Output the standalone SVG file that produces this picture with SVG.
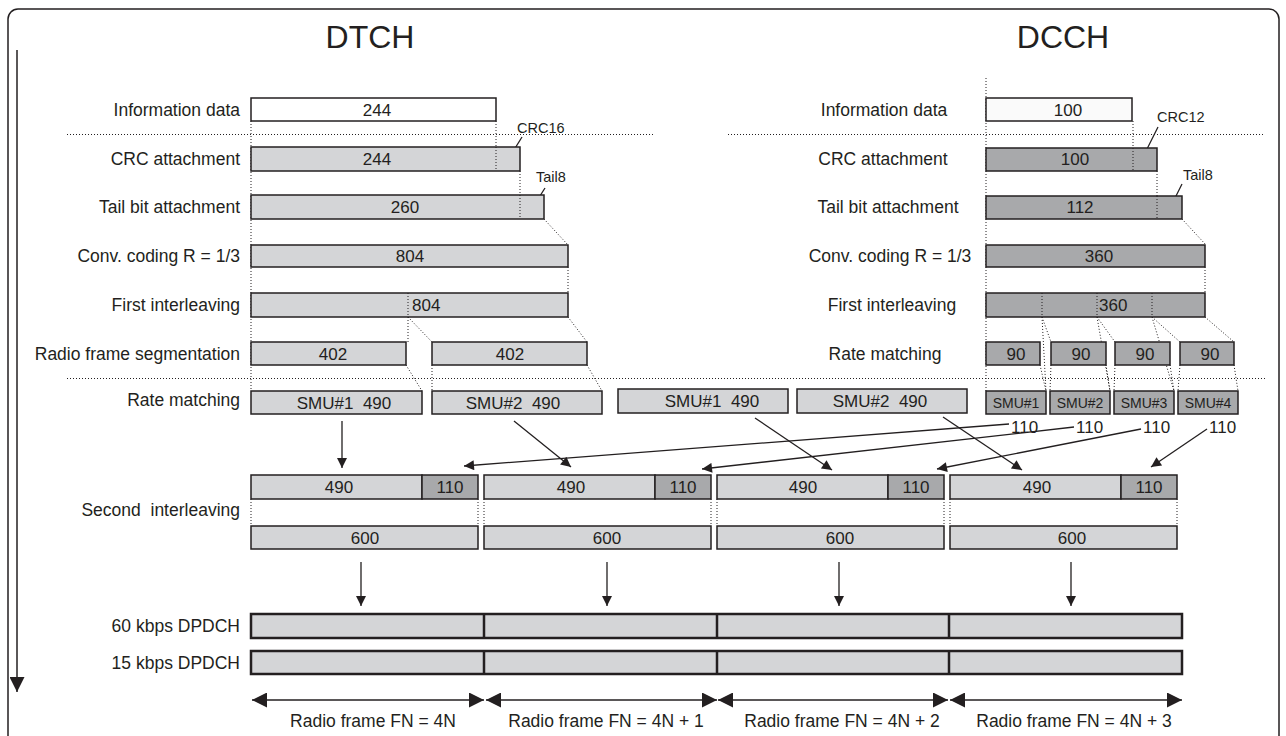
<svg xmlns="http://www.w3.org/2000/svg" width="1286" height="736" viewBox="0 0 1286 736">
<style>
.box{stroke:#231f20;stroke-width:1.5}
.lt{fill:#d4d5d7}.dk{fill:#a8a9ab}.wh{fill:#ffffff}.vw{fill:#fafafa}
.dot{stroke:#231f20;stroke-width:1;stroke-dasharray:1 2;fill:none}
.ln{stroke:#231f20;stroke-width:1.3;fill:none}
.t{font-family:'Liberation Sans',Arial,sans-serif;font-size:17.5px;fill:#231f20}
.lbl{text-anchor:end}
.mid{text-anchor:middle}
.num{font-size:17px;text-anchor:middle}
.n17{font-size:17px}
.sm{font-size:14.5px}
.smu{font-size:14px;text-anchor:middle}
.title{font-size:32px;text-anchor:middle}
.thick{stroke:#231f20;stroke-width:2.5}
</style>
<defs>
<marker id="ah" viewBox="0 0 10 10" refX="10" refY="5" markerWidth="12" markerHeight="10" markerUnits="userSpaceOnUse" orient="auto"><path d="M0,0 L10,5 L0,10 z" fill="#231f20"/></marker>
<marker id="ahb" viewBox="0 0 10 10" refX="10" refY="5" markerWidth="15" markerHeight="15" markerUnits="userSpaceOnUse" orient="auto-start-reverse"><path d="M0,0 L10,5 L0,10 z" fill="#231f20"/></marker>
</defs>
<rect x="8" y="9" width="1271" height="760" rx="10" fill="none" stroke="#231f20" stroke-width="1.5"/>

<g id="connectors">
<line class="dot" x1="67" y1="134.5" x2="655" y2="134.5"/>
<line class="dot" x1="728" y1="134.5" x2="1265" y2="134.5"/>
<line class="dot" x1="67" y1="378.5" x2="1265" y2="378.5"/>
<line class="dot" x1="251" y1="121" x2="251" y2="391"/>
<line class="dot" x1="496" y1="121" x2="496" y2="171"/>
<line class="dot" x1="520" y1="171" x2="520" y2="219"/>
<line class="dot" x1="544" y1="219" x2="568" y2="245"/>
<line class="dot" x1="568" y1="267" x2="568" y2="293"/>
<line class="dot" x1="408" y1="293" x2="408" y2="342"/>
<line class="dot" x1="408" y1="317" x2="432" y2="342"/>
<line class="dot" x1="568" y1="317" x2="587" y2="342"/>
<line class="dot" x1="406" y1="365" x2="422" y2="391"/>
<line class="dot" x1="432" y1="365" x2="432" y2="391"/>
<line class="dot" x1="587" y1="365" x2="602" y2="391"/>
<line class="dot" x1="986" y1="78" x2="986" y2="391"/>
<line class="dot" x1="1133" y1="121" x2="1133" y2="171"/>
<line class="dot" x1="1157" y1="171" x2="1157" y2="219"/>
<line class="dot" x1="1182" y1="219" x2="1206" y2="245"/>
<line class="dot" x1="1205" y1="267" x2="1205" y2="293"/>
<line class="dot" x1="1042" y1="317" x2="1051" y2="342"/>
<line class="dot" x1="1042" y1="317" x2="1046" y2="391"/>
<line class="dot" x1="1097" y1="317" x2="1115" y2="342"/>
<line class="dot" x1="1097" y1="317" x2="1110" y2="391"/>
<line class="dot" x1="1152" y1="317" x2="1180" y2="342"/>
<line class="dot" x1="1152" y1="317" x2="1174" y2="391"/>
<line class="dot" x1="1205" y1="317" x2="1234" y2="342"/>
<line class="dot" x1="1040" y1="365" x2="1046" y2="391"/>
<line class="dot" x1="1106" y1="365" x2="1110" y2="391"/>
<line class="dot" x1="1051" y1="365" x2="1050" y2="391"/>
<line class="dot" x1="1170" y1="365" x2="1174" y2="391"/>
<line class="dot" x1="1115" y1="365" x2="1114" y2="391"/>
<line class="dot" x1="1234" y1="365" x2="1238" y2="391"/>
<line class="dot" x1="1180" y1="365" x2="1178" y2="391"/>
<line class="dot" x1="251" y1="499" x2="251" y2="526"/>
<line class="dot" x1="478" y1="499" x2="478" y2="526"/>
<line class="dot" x1="484" y1="499" x2="484" y2="526"/>
<line class="dot" x1="711" y1="499" x2="711" y2="526"/>
<line class="dot" x1="717" y1="499" x2="717" y2="526"/>
<line class="dot" x1="944" y1="499" x2="944" y2="526"/>
<line class="dot" x1="950" y1="499" x2="950" y2="526"/>
<line class="dot" x1="1177" y1="499" x2="1177" y2="526"/>
<line class="ln" x1="522" y1="137" x2="509" y2="158"/>
<line class="ln" x1="545" y1="188" x2="533" y2="207"/>
<line class="ln" x1="1158" y1="127" x2="1146" y2="151"/>
<line class="ln" x1="1182" y1="184" x2="1170" y2="208"/>
<line class="ln" x1="342" y1="421" x2="342" y2="468" marker-end="url(#ah)"/>
<line class="ln" x1="514" y1="421" x2="571" y2="467" marker-end="url(#ah)"/>
<line class="ln" x1="755" y1="418" x2="832" y2="470" marker-end="url(#ah)"/>
<line class="ln" x1="943" y1="417" x2="1022" y2="470" marker-end="url(#ah)"/>
<line class="ln" x1="1009" y1="424" x2="464" y2="466" marker-end="url(#ah)"/>
<line class="ln" x1="1074" y1="427" x2="702" y2="469" marker-end="url(#ah)"/>
<line class="ln" x1="1141" y1="429" x2="937" y2="469" marker-end="url(#ah)"/>
<line class="ln" x1="1207" y1="429" x2="1151" y2="467" marker-end="url(#ah)"/>
<line class="ln" x1="361" y1="562" x2="361" y2="606" marker-end="url(#ah)"/>
<line class="ln" x1="607" y1="562" x2="607" y2="606" marker-end="url(#ah)"/>
<line class="ln" x1="839" y1="562" x2="839" y2="606" marker-end="url(#ah)"/>
<line class="ln" x1="1071" y1="562" x2="1071" y2="606" marker-end="url(#ah)"/>
<line class="ln" x1="252" y1="700" x2="484" y2="700" marker-start="url(#ahb)" marker-end="url(#ahb)"/>
<line class="ln" x1="486" y1="700" x2="717" y2="700" marker-start="url(#ahb)" marker-end="url(#ahb)"/>
<line class="ln" x1="718" y1="700" x2="948" y2="700" marker-start="url(#ahb)" marker-end="url(#ahb)"/>
<line class="ln" x1="950" y1="700" x2="1182" y2="700" marker-start="url(#ahb)" marker-end="url(#ahb)"/>
<line x1="17" y1="50" x2="17" y2="692" stroke="#231f20" stroke-width="1.5" marker-end="url(#ahb)"/>
</g>

<g id="titles" class="t">
<text class="title" x="370" y="48">DTCH</text>
<text class="title" x="1063" y="48">DCCH</text>
</g>

<g id="dtch-labels" class="t lbl">
<text x="240" y="115.5">Information data</text>
<text x="240" y="165">CRC attachment</text>
<text x="240" y="213">Tail bit attachment</text>
<text x="240" y="262">Conv. coding R = 1/3</text>
<text x="240" y="311">First interleaving</text>
<text x="240" y="359.5">Radio frame segmentation</text>
<text x="240" y="406">Rate matching</text>
<text x="240" y="516" xml:space="preserve">Second  interleaving</text>
<text x="240" y="632">60 kbps DPDCH</text>
<text x="240" y="669">15 kbps DPDCH</text>
</g>

<g id="dcch-labels" class="t mid">
<text x="884" y="115.5">Information data</text>
<text x="883" y="165">CRC attachment</text>
<text x="888" y="213">Tail bit attachment</text>
<text x="890" y="262">Conv. coding R = 1/3</text>
<text x="892" y="311">First interleaving</text>
<text x="885" y="359.5">Rate matching</text>
</g>

<g id="dtch-info"><rect class="box wh" x="251" y="98" width="245" height="23"/><text class="t num" x="377" y="115.5">244</text></g>
<g id="dtch-crc"><rect class="box lt" x="251" y="147" width="269" height="24"/><line class="dot" x1="496" y1="147" x2="496" y2="171"/><text class="t num" x="377" y="165">244</text><text class="t sm" x="517" y="133">CRC16</text></g>
<g id="dtch-tail"><rect class="box lt" x="251" y="195" width="293" height="24"/><line class="dot" x1="520" y1="195" x2="520" y2="219"/><text class="t num" x="405" y="213">260</text><text class="t sm" x="536" y="182">Tail8</text></g>
<g id="dtch-conv"><rect class="box lt" x="251" y="245" width="317" height="22"/><text class="t num" x="410" y="262">804</text></g>
<g id="dtch-first"><rect class="box lt" x="251" y="293" width="317" height="24"/><line class="dot" x1="408" y1="293" x2="408" y2="317"/><text class="t n17" x="412" y="311">804</text></g>
<g id="dtch-seg1"><rect class="box lt" x="251" y="342" width="155" height="23"/><text class="t num" x="333" y="359.5">402</text></g>
<g id="dtch-seg2"><rect class="box lt" x="432" y="342" width="155" height="23"/><text class="t num" x="510" y="359.5">402</text></g>
<g id="dtch-rm1"><rect class="box lt" x="251" y="391" width="171" height="23"/><text class="t num" x="344" y="408.5" xml:space="preserve">SMU#1  490</text></g>
<g id="dtch-rm2"><rect class="box lt" x="432" y="391" width="170" height="23"/><text class="t num" x="513" y="408.5" xml:space="preserve">SMU#2  490</text></g>
<g id="dtch-rm3"><rect class="box lt" x="618" y="389" width="170" height="24"/><text class="t num" x="712" y="407" xml:space="preserve">SMU#1  490</text></g>
<g id="dtch-rm4"><rect class="box lt" x="797" y="389" width="170" height="24"/><text class="t num" x="880" y="407" xml:space="preserve">SMU#2  490</text></g>

<g id="dcch-info"><rect class="box vw" x="986" y="98" width="146" height="23"/><text class="t num" x="1068" y="115.5">100</text></g>
<g id="dcch-crc"><rect class="box dk" x="986" y="148" width="171" height="23"/><line class="dot" x1="1133" y1="148" x2="1133" y2="171"/><text class="t num" x="1075" y="165">100</text><text class="t sm" x="1157" y="122">CRC12</text></g>
<g id="dcch-tail"><rect class="box dk" x="986" y="196" width="196" height="23"/><line class="dot" x1="1157" y1="196" x2="1157" y2="219"/><text class="t num" x="1080" y="213">112</text><text class="t sm" x="1183" y="180">Tail8</text></g>
<g id="dcch-conv"><rect class="box dk" x="986" y="245" width="219" height="22"/><text class="t num" x="1099" y="262">360</text></g>
<g id="dcch-first"><rect class="box dk" x="986" y="293" width="219" height="24"/><line class="dot" x1="1042" y1="293" x2="1042" y2="317"/><line class="dot" x1="1097" y1="293" x2="1097" y2="317"/><line class="dot" x1="1152" y1="293" x2="1152" y2="317"/><text class="t n17" x="1099" y="311">360</text></g>
<g id="dcch-rm1"><rect class="box dk" x="986" y="342" width="54" height="23"/><text class="t num" x="1016" y="359.5">90</text></g>
<g id="dcch-rm2"><rect class="box dk" x="1051" y="342" width="55" height="23"/><text class="t num" x="1081" y="359.5">90</text></g>
<g id="dcch-rm3"><rect class="box dk" x="1115" y="342" width="55" height="23"/><text class="t num" x="1145" y="359.5">90</text></g>
<g id="dcch-rm4"><rect class="box dk" x="1180" y="342" width="54" height="23"/><text class="t num" x="1210" y="359.5">90</text></g>
<g id="dcch-smu1"><rect class="box dk" x="986" y="391" width="60" height="23"/><text class="t smu" x="1016" y="407.5">SMU#1</text><text class="t n17" x="1011" y="433">110</text></g>
<g id="dcch-smu2"><rect class="box dk" x="1050" y="391" width="60" height="23"/><text class="t smu" x="1080" y="407.5">SMU#2</text><text class="t n17" x="1076" y="433">110</text></g>
<g id="dcch-smu3"><rect class="box dk" x="1114" y="391" width="60" height="23"/><text class="t smu" x="1144" y="407.5">SMU#3</text><text class="t n17" x="1143" y="433">110</text></g>
<g id="dcch-smu4"><rect class="box dk" x="1178" y="391" width="60" height="23"/><text class="t smu" x="1208" y="407.5">SMU#4</text><text class="t n17" x="1209" y="433">110</text></g>

<g id="frame1"><rect class="box lt" x="251" y="475" width="171" height="24"/><rect class="box dk" x="422" y="475" width="56" height="24"/><rect class="box lt" x="251" y="526" width="227" height="23"/><text class="t num" x="339" y="493">490</text><text class="t num" x="450" y="493">110</text><text class="t num" x="365" y="543.5">600</text></g>
<g id="frame2"><rect class="box lt" x="484" y="475" width="171" height="24"/><rect class="box dk" x="655" y="475" width="56" height="24"/><rect class="box lt" x="484" y="526" width="227" height="23"/><text class="t num" x="571" y="493">490</text><text class="t num" x="683" y="493">110</text><text class="t num" x="607" y="543.5">600</text></g>
<g id="frame3"><rect class="box lt" x="717" y="475" width="171" height="24"/><rect class="box dk" x="888" y="475" width="56" height="24"/><rect class="box lt" x="717" y="526" width="227" height="23"/><text class="t num" x="803" y="493">490</text><text class="t num" x="916" y="493">110</text><text class="t num" x="840" y="543.5">600</text></g>
<g id="frame4"><rect class="box lt" x="950" y="475" width="171" height="24"/><rect class="box dk" x="1121" y="475" width="56" height="24"/><rect class="box lt" x="950" y="526" width="227" height="23"/><text class="t num" x="1037" y="493">490</text><text class="t num" x="1149" y="493">110</text><text class="t num" x="1072" y="543.5">600</text></g>

<g id="dpdch60"><rect class="lt thick" x="251" y="614" width="931" height="24"/><line class="thick" x1="484" y1="614" x2="484" y2="638"/><line class="thick" x1="717" y1="614" x2="717" y2="638"/><line class="thick" x1="949" y1="614" x2="949" y2="638"/></g>
<g id="dpdch15"><rect class="lt thick" x="251" y="651" width="931" height="23"/><line class="thick" x1="484" y1="651" x2="484" y2="674"/><line class="thick" x1="717" y1="651" x2="717" y2="674"/><line class="thick" x1="949" y1="651" x2="949" y2="674"/></g>

<g id="frame-labels" class="t mid">
<text x="373" y="727">Radio frame FN = 4N</text>
<text x="606" y="727">Radio frame FN = 4N + 1</text>
<text x="842" y="727">Radio frame FN = 4N + 2</text>
<text x="1074" y="727">Radio frame FN = 4N + 3</text>
</g>
</svg>
